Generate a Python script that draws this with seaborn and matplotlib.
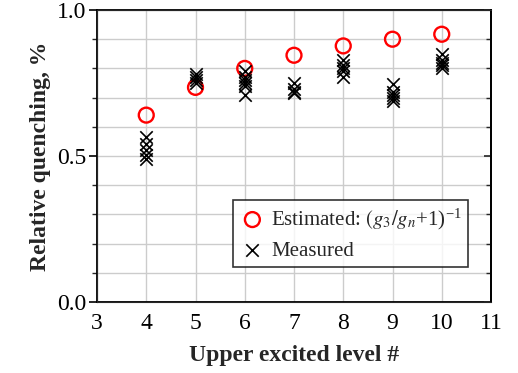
import matplotlib
matplotlib.use("Agg")
import matplotlib.pyplot as plt
import seaborn as sns
import pandas as pd
from matplotlib.ticker import MultipleLocator, FormatStrFormatter

# Estimated values (one per level)
est_levels = [4, 5, 6, 7, 8, 9, 10]
est_values = [0.64, 0.735, 0.80, 0.845, 0.877, 0.90, 0.917]

# Measured values (several per level)
meas_levels = [4, 4, 4, 4, 4,
               5, 5, 5, 5,
               6, 6, 6, 6, 6, 6,
               7, 7, 7, 7,
               8, 8, 8, 8, 8,
               9, 9, 9, 9, 9,
               10, 10, 10, 10, 10]
meas_values = [0.565, 0.54, 0.52, 0.505, 0.49,
               0.78, 0.77, 0.76, 0.75,
               0.79, 0.77, 0.76, 0.75, 0.74, 0.71,
               0.75, 0.73, 0.72, 0.715,
               0.83, 0.81, 0.80, 0.79, 0.77,
               0.745, 0.72, 0.71, 0.70, 0.69,
               0.85, 0.83, 0.82, 0.81, 0.80]

est_label = r"Estimated: $(g_3/g_n$+1)$^{\mathregular{-1}}$"
meas_label = "Measured"

sns.set_style("white")
plt.rcParams["font.family"] = ["Liberation Serif", "DejaVu Serif"]
plt.rcParams["mathtext.fontset"] = "stix"

df_est = pd.DataFrame({"level": est_levels, "value": est_values})
df_meas = pd.DataFrame({"level": meas_levels, "value": meas_values})

fig = plt.figure(figsize=(5.18, 3.73), dpi=100)
ax = fig.add_axes([97/518, 71/373, 394/518, 292/373])

ax.set_xlim(3, 11)
ax.set_ylim(0, 1.0)
ax.xaxis.set_major_locator(MultipleLocator(1))
ax.yaxis.set_major_locator(MultipleLocator(0.5))
ax.yaxis.set_minor_locator(MultipleLocator(0.1))
ax.grid(True, which="major", axis="x", color="#cccccc", linewidth=1.0)
ax.grid(True, which="both", axis="y", color="#cccccc", linewidth=1.0)
ax.set_axisbelow(True)

sns.scatterplot(data=df_est, x="level", y="value", ax=ax, marker="o",
                s=115, facecolor="none", edgecolor="red", linewidth=1.7,
                label=est_label, zorder=3)
sns.scatterplot(data=df_meas, x="level", y="value", ax=ax, marker="x",
                s=80, color="black", linewidth=1.2, label=meas_label, zorder=4)

for sp in ax.spines.values():
    sp.set_color("black")
    sp.set_linewidth(1.3)

ax.tick_params(axis="both", which="major", labelsize=17, direction="out",
               length=6, width=1.2, color="black", labelcolor="black", pad=2)
ax.tick_params(axis="y", which="minor", direction="out", length=3.5, width=1.0)
ax.yaxis.set_major_formatter(FormatStrFormatter("%.1f"))

# inward ticks on the right spine
ax_r = ax.twinx()
ax_r.set_ylim(ax.get_ylim())
ax_r.yaxis.set_major_locator(MultipleLocator(0.5))
ax_r.yaxis.set_minor_locator(MultipleLocator(0.1))
ax_r.tick_params(axis="y", which="major", direction="in", length=5, width=1.2,
                 labelright=False)
ax_r.tick_params(axis="y", which="minor", direction="in", length=3.5, width=1.0)
ax_r.spines["right"].set_linewidth(1.3)
ax_r.spines["right"].set_color("black")

ax.set_xlabel("Upper excited level #", fontsize=17, fontweight="bold", labelpad=8)
ax.set_ylabel("Relative quenching, %", fontsize=17, fontweight="bold", labelpad=4)

leg = ax.legend(loc="lower right", bbox_to_anchor=(0.942, 0.12), fontsize=15,
                frameon=True, fancybox=False, edgecolor="black",
                handletextpad=0.25, borderpad=0.3, labelspacing=0.45,
                handlelength=1.3, borderaxespad=0)
leg.get_frame().set_linewidth(1.2)

fig.savefig("out.png", dpi=100)
